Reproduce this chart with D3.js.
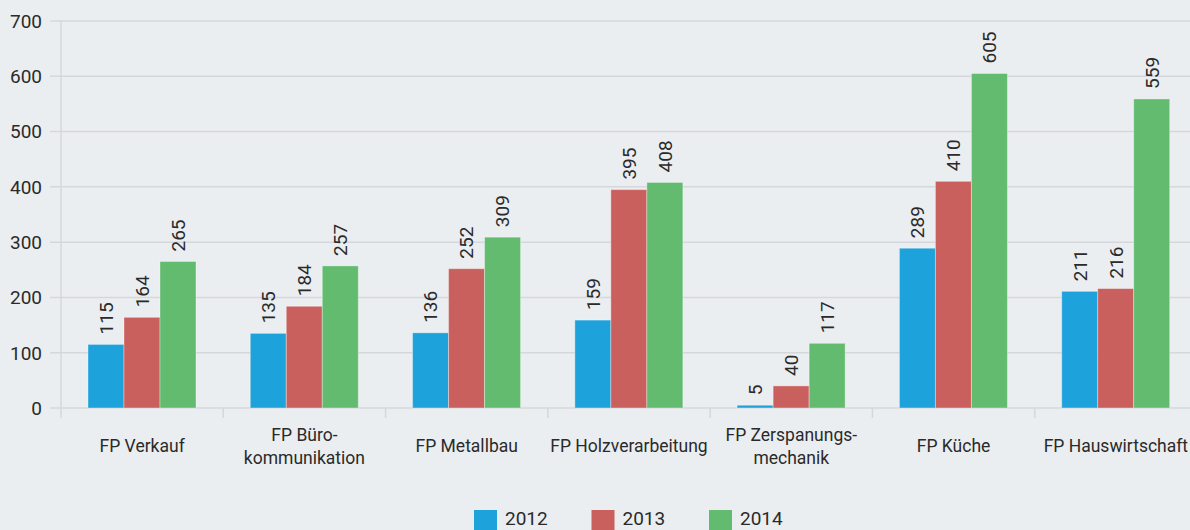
<!DOCTYPE html>
<html lang="de">
<head>
<meta charset="UTF-8">
<title>FP Abschlüsse 2012–2014</title>
<script src="https://d3js.org/d3.v7.min.js"></script>
<style>
    body {
        margin: 0;
        padding: 0;
        overflow: hidden;
        background: #ebeef1;
        font-family: Roboto, "Liberation Sans", sans-serif;
    }
    svg text { fill: #2a2a2a; }
    .grid line { stroke: #d5d7db; stroke-width: 1.5px; }
</style>
</head>
<body>
<script>
    // Daten
    const categories = [
        ["FP Verkauf"],
        ["FP Büro-", "kommunikation"],
        ["FP Metallbau"],
        ["FP Holzverarbeitung"],
        ["FP Zerspanungs-", "mechanik"],
        ["FP Küche"],
        ["FP Hauswirtschaft"]
    ];
    const years = ["2012", "2013", "2014"];
    const values2012 = [115, 135, 136, 159, 5, 289, 211];
    const values2013 = [164, 184, 252, 395, 40, 410, 216];
    const values2014 = [265, 257, 309, 408, 117, 605, 559];
    const yTicks = [0, 100, 200, 300, 400, 500, 600, 700];

    const series = [values2012, values2013, values2014];
    const colors = ["#1ea2dc", "#c9605d", "#62bb6f"];

    const width = 1190, height = 530;
    const plotLeft = 61, plotRight = 1197, plotTop = 21, plotBottom = 408;

    const svg = d3.select("body").append("svg")
        .attr("width", width)
        .attr("height", height);

    const y = d3.scaleLinear().domain([0, 700]).range([plotBottom, plotTop]);
    const x0 = d3.scaleBand().domain(d3.range(categories.length)).range([plotLeft, plotRight]);
    const x1 = d3.scaleBand().domain(d3.range(years.length)).range([27, 135]);

    // Gitterlinien
    const grid = svg.append("g").attr("class", "grid");
    grid.selectAll("line")
        .data(yTicks)
        .enter().append("line")
        .attr("x1", 50)
        .attr("x2", width)
        .attr("y1", d => y(d))
        .attr("y2", d => y(d));

    // y-Achse
    svg.append("line")
        .attr("x1", plotLeft).attr("x2", plotLeft)
        .attr("y1", plotTop).attr("y2", plotBottom + 10)
        .attr("stroke", "#d5d7db").attr("stroke-width", 1.5);

    svg.append("g").selectAll("text")
        .data(yTicks)
        .enter().append("text")
        .attr("x", 42)
        .attr("y", d => y(d))
        .attr("dy", "0.36em")
        .attr("text-anchor", "end")
        .style("font-size", "19px")
        .text(d => d);

    // Gruppentrenner
    svg.append("g").selectAll("line")
        .data(d3.range(1, categories.length))
        .enter().append("line")
        .attr("x1", d => x0(d)).attr("x2", d => x0(d))
        .attr("y1", plotBottom).attr("y2", plotBottom + 10)
        .attr("stroke", "#d5d7db").attr("stroke-width", 1.5);

    // Balken
    const groups = svg.append("g").selectAll("g")
        .data(categories.map((c, i) => i))
        .enter().append("g")
        .attr("transform", i => `translate(${x0(i)},0)`);

    groups.selectAll("rect")
        .data(i => series.map((s, j) => ({ j, v: s[i] })))
        .enter().append("rect")
        .attr("x", d => x1(d.j))
        .attr("width", x1.bandwidth())
        .attr("y", d => y(d.v))
        .attr("height", d => plotBottom - y(d.v))
        .attr("fill", d => colors[d.j])
        .attr("stroke", "rgba(255,255,255,0.35)")
        .attr("stroke-width", 1);

    // Wertbeschriftungen
    groups.selectAll("text.val")
        .data(i => series.map((s, j) => ({ j, v: s[i] })))
        .enter().append("text")
        .attr("class", "val")
        .attr("transform", d => `translate(${x1(d.j) + x1.bandwidth() / 2},${y(d.v) - 10}) rotate(-90)`)
        .attr("dy", "0.36em")
        .style("font-size", "19px")
        .text(d => d.v);

    // Kategorien
    const catLabels = svg.append("g").selectAll("text")
        .data(categories)
        .enter().append("text")
        .attr("text-anchor", "middle")
        .attr("x", (d, i) => x0(i) + x0.bandwidth() / 2)
        .attr("y", d => d.length === 1 ? 452 : 441)
        .style("font-size", "17.5px");

    catLabels.selectAll("tspan")
        .data(d => d)
        .enter().append("tspan")
        .attr("x", function () { return d3.select(this.parentNode).attr("x"); })
        .attr("dy", (d, i) => i === 0 ? 0 : 23)
        .text(d => d);

    // Legende
    const legend = svg.append("g").selectAll("g")
        .data(years)
        .enter().append("g")
        .attr("transform", (d, i) => `translate(${474 + i * 117.5},510)`);

    legend.append("rect")
        .attr("width", 23)
        .attr("height", 23)
        .attr("fill", (d, i) => colors[i]);

    legend.append("text")
        .attr("x", 31)
        .attr("y", 15)
        .style("font-size", "19px")
        .text(d => d);
</script>
</body>
</html>
